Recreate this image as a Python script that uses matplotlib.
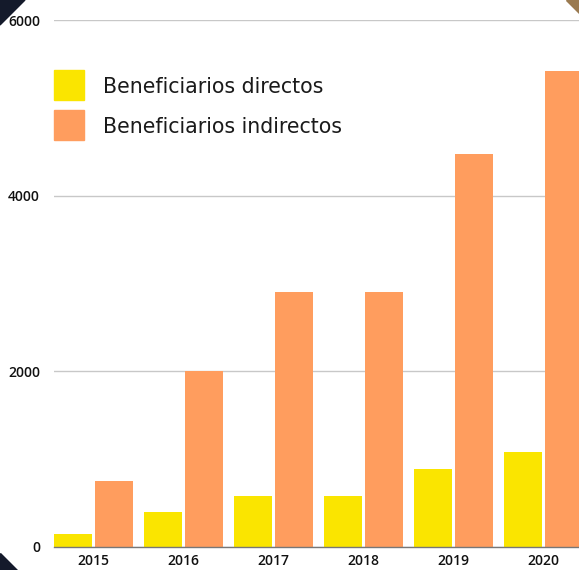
import matplotlib
matplotlib.use("Agg")
import matplotlib.pyplot as plt
from matplotlib.patches import Polygon, Patch
import numpy as np

years = ["2015", "2016", "2017", "2018", "2019", "2020"]
directos = [150, 400, 580, 580, 890, 1080]
indirectos = [750, 2000, 2900, 2900, 4475, 5420]
labels = ["Beneficiarios directos", "Beneficiarios indirectos"]
yticks = [0, 2000, 4000, 6000]

W, H = 579, 570
fig = plt.figure(figsize=(W / 100, H / 100), dpi=100)
fig.patch.set_facecolor("white")

left, right = 54 / W, 579 / W
bottom, top = (H - 547) / H, (H - 20) / H
ax = fig.add_axes([left, bottom, right - left, top - bottom])

c_dir = "#FAE500"
c_ind = "#FF9D5E"
x = np.arange(len(years))
bw = 38 / 90
gap = 3 / 90
ax.bar(x - bw / 2 - gap / 2, directos, width=bw, color=c_dir, zorder=3)
ax.bar(x + bw / 2 + gap / 2, indirectos, width=bw, color=c_ind, zorder=3)

ax.set_xlim(-39.5 / 90, (579 - 93.5) / 90)
ax.set_ylim(0, 6000)
ax.set_yticks(yticks)
ax.set_yticklabels([str(v) for v in yticks])
ax.set_xticks(x)
ax.set_xticklabels(years)
ax.yaxis.grid(True, color="#c8c8c8", linewidth=1, zorder=0)
ax.set_axisbelow(True)
for s in ["top", "right", "left"]:
    ax.spines[s].set_visible(False)
ax.spines["bottom"].set_color("#777777")
ax.spines["bottom"].set_linewidth(1)
ax.spines["bottom"].set_zorder(4)
ax.tick_params(axis="both", length=0, labelsize=10, colors="#111111")
ax.tick_params(axis="y", pad=10)
ax.tick_params(axis="x", pad=5)
for t in ax.get_xticklabels() + ax.get_yticklabels():
    t.set_fontfamily(["Open Sans", "DejaVu Sans"])
    t.set_fontweight(600)

fs = 14.8
handles = [Patch(color=c_dir), Patch(color=c_ind)]
leg = fig.legend(handles, labels, loc="upper left",
                 bbox_to_anchor=(45.8 / W, (H - 61.8) / H), frameon=False,
                 fontsize=fs, handlelength=1.46, handleheight=1.86,
                 handletextpad=0.92, labelspacing=0.485, borderaxespad=0)
for t in leg.get_texts():
    t.set_color("#1a1a1a")
    t.set_y(-1.5)

fig.patches.append(Polygon([[0, 1], [25 / W, 1], [0, 1 - 25 / H]], closed=True,
                           transform=fig.transFigure, color="#141a2b", zorder=10))
fig.patches.append(Polygon([[566 / W, 1], [1, 1], [1, 1 - 13 / H]], closed=True,
                           transform=fig.transFigure, color="#9a7a50", zorder=10))
fig.patches.append(Polygon([[0, 17 / H], [0, 0], [17 / W, 0]], closed=True,
                           transform=fig.transFigure, color="#141a2b", zorder=10))

fig.savefig("out.png", dpi=100)
